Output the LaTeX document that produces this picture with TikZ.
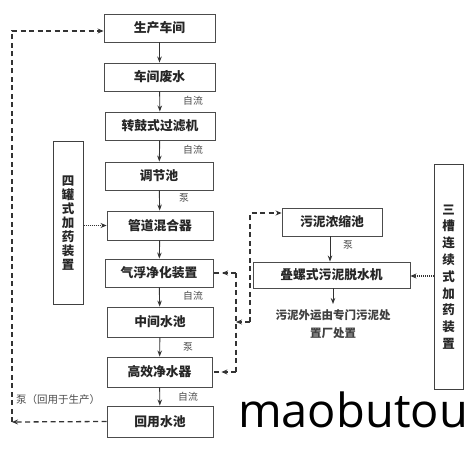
\documentclass[tikz,border=0pt]{standalone}
\usepackage{fontspec}
\newfontfamily\cjk{Noto Sans CJK SC}
\newfontfamily\wm{Open Sans}
\usetikzlibrary{arrows.meta,decorations.markings}
\tikzset{
  box/.style={draw=black!70,line width=0.9pt,fill=white,inner sep=0pt,minimum height=28pt,minimum width=108pt,text=black!85,font=\cjk\bfseries\fontsize{12.8}{14}\selectfont},
  vbox/.style={draw=black!75,line width=1pt,inner sep=0pt,minimum width=30pt,align=center,text=black!85},
  lbl/.style={font=\cjk\fontsize{9.8}{11}\selectfont,text=black!70,inner sep=0pt},
  flow/.style={-{Stealth[length=6pt,width=4.5pt]},line width=0.9pt,draw=black!80},
  dashline/.style={dash pattern=on 5pt off 3.5pt,line width=1.3pt,draw=black!80},
  dotline/.style={dash pattern=on 1pt off 1pt,line width=1.1pt,draw=black!80},
  tipend/.style={-{Stealth[length=6pt,width=5pt]}},
  midtip/.style={postaction={decorate},decoration={markings,mark=at position #1 with {\arrow{Stealth[length=6pt,width=5pt]}}}}
}
\begin{document}
\begin{tikzpicture}[x=1pt,y=-1pt]
\fill[white] (0,0) rectangle (471,457);
\useasboundingbox (0,0) rectangle (471,457);
% main column
\node[box,minimum width=111pt] (n1) at (159.5,28) {生产车间};
\node[box,minimum width=111pt] (n2) at (159.5,77) {车间废水};
\node[box,minimum width=110pt] (n3) at (160,126) {转鼓式过滤机};
\node[box] (n4) at (159,176) {调节池};
\node[box,minimum width=106pt,minimum height=29pt] (n5) at (160,225.5) {管道混合器};
\node[box] (n6) at (159,273) {气浮净化装置};
\node[box,minimum width=106pt,minimum height=30pt] (n7) at (160,322) {中间水池};
\node[box,minimum width=105pt,minimum height=30pt] (n8) at (159.5,372) {高效净水器};
\node[box,minimum width=106pt,minimum height=31pt] (n9) at (160,421.5) {回用水池};
\draw[flow] (n1) -- (n2);
\draw[flow] (n2) -- (n3);
\draw[flow] (n3) -- (n4);
\draw[flow] (n4) -- (n5);
\draw[flow] (n5) -- (n6);
\draw[flow] (n6) -- (n7);
\draw[flow] (n7) -- (n8);
\draw[flow] (n8) -- (n9);
\node[lbl] (l1) at (193,101) {自流};
\node[lbl] (l2) at (193,150) {自流};
\node[lbl] (l3) at (184,198) {泵};
\node[lbl] (l4) at (193,296) {自流};
\node[lbl] (l5) at (188,347) {泵};
\node[lbl] (l6) at (188,397) {自流};
% left dosing box
\node[vbox,minimum height=162pt,font=\cjk\bfseries\fontsize{12.5}{14}\selectfont] (L) at (68,223) {四\\罐\\式\\加\\药\\装\\置};
\draw[dotline,tipend] (L.east |- n5.west) -- (n5.west);
% right dosing box
\node[vbox,minimum width=29pt,minimum height=224pt,font=\cjk\bfseries\fontsize{12.5}{16.8}\selectfont] (R) at (448.5,277) {三\\槽\\连\\续\\式\\加\\药\\装\\置};
% sludge line
\node[box,minimum width=100pt] (s1) at (332,222) {污泥浓缩池};
\node[box,minimum width=157pt,minimum height=26pt] (s2) at (331.5,275) {叠螺式污泥脱水机};
\draw[flow] (s1.south -| 330,0) -- (s2.north -| 330,0);
\node[lbl] (l7) at (348,245) {泵};
\node[font=\cjk\bfseries\fontsize{11.5}{18}\selectfont,text=black!75,align=center,inner sep=0pt] (t1) at (333,324) {污泥外运由专门污泥处\\置厂处置};
\coordinate (t1top) at (333,304);
\draw[flow] (s2.south -| t1top) -- (t1top);
\draw[dotline,tipend] (R.west |- 0,276) -- (s2.east |- 0,276);
% dashed sludge collection
\coordinate (c1) at (236,273);
\coordinate (c2) at (236,372);
\coordinate (c3) at (236,322);
\coordinate (c4) at (250,322);
\coordinate (c5) at (250,213);
\draw[dashline,midtip=0.62] (c1) -- (n6.east);
\draw[dashline,midtip=0.62] (c2) -- (n8.east);
\draw[dashline] (c1) -- (c2);
\draw[dashline,tipend] (c4) -- (c3);
\draw[dashline,tipend] (c4) -- (c5) -- (s1.west |- c5);
% return loop
\coordinate (a) at (12,422);
\coordinate (b) at (12,31);
\draw[dashline,tipend] (n9.west) -- (a);
\draw[dashline,tipend] (a) -- (b) -- (n1.west |- b);
\node[lbl,anchor=west,font=\cjk\fontsize{10.5}{11}\selectfont] (l8) at (16,400) {泵（回用于生产）};
% watermark
\node[font=\wm\fontsize{47}{47}\selectfont,anchor=base,inner sep=0pt,text=black] (wm) at (353,427) {maobutou};
\end{tikzpicture}
\end{document}
